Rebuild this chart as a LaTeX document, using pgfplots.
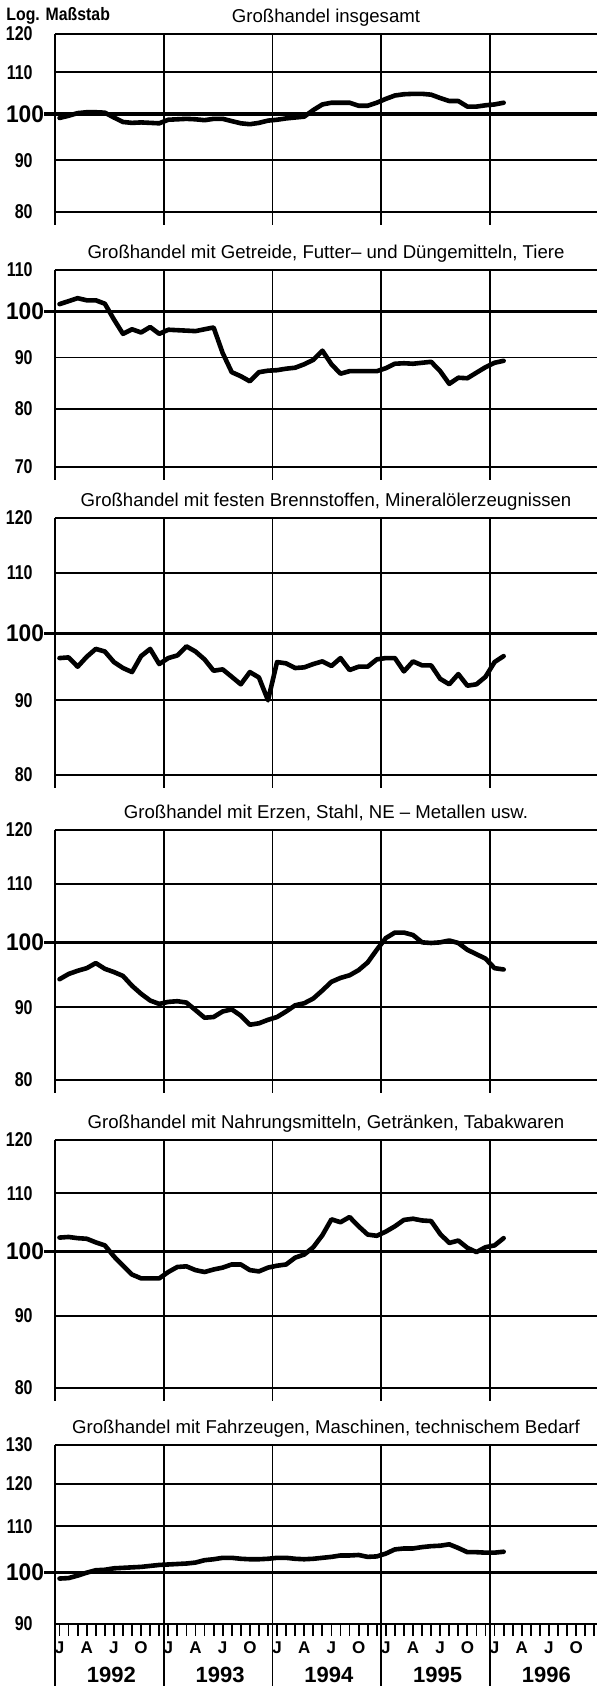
\documentclass[border=0pt]{standalone}
\usepackage{pgfplots}
\pgfplotsset{compat=1.18}
\usepackage{pgfplotstable}
\usepackage{fontspec}
\setmainfont{Liberation Sans}
\newfontfamily\numfont[FakeStretch=0.8]{Liberation Sans}
\newfontfamily\hundfont[FakeStretch=0.95]{Liberation Sans}
\newfontfamily\condfont[FakeStretch=0.88]{Liberation Sans}

% x = month index (month centre), Jan 1992 = 0.5 ... Feb 1996 = 49.5
\pgfplotstableread{
x y
0.5 99.1
1.5 99.6
2.5 100.2
3.5 100.4
4.5 100.4
5.5 100.3
6.5 99.2
7.5 98.2
8.5 98.0
9.5 98.1
10.5 98.0
11.5 97.9
12.5 98.7
13.5 98.8
14.5 98.9
15.5 98.8
16.5 98.6
17.5 98.9
18.5 98.9
19.5 98.4
20.5 97.9
21.5 97.7
22.5 98.0
23.5 98.5
24.5 98.7
25.5 99.0
26.5 99.2
27.5 99.4
28.5 100.9
29.5 102.2
30.5 102.6
31.5 102.6
32.5 102.6
33.5 101.9
34.5 101.9
35.5 102.6
36.5 103.5
37.5 104.3
38.5 104.6
39.5 104.7
40.5 104.7
41.5 104.5
42.5 103.7
43.5 103.0
44.5 103.0
45.5 101.7
46.5 101.7
47.5 102.0
48.5 102.2
49.5 102.6
}\dataA

\pgfplotstableread{
x y
0.5 101.7
1.5 102.4
2.5 103.1
3.5 102.6
4.5 102.6
5.5 101.8
6.5 98.2
7.5 95.0
8.5 96.0
9.5 95.3
10.5 96.5
11.5 95.0
12.5 95.9
13.5 95.8
14.5 95.7
15.5 95.6
16.5 96.0
17.5 96.4
18.5 90.9
19.5 87.0
20.5 86.2
21.5 85.2
22.5 87.0
23.5 87.3
24.5 87.4
25.5 87.7
26.5 87.9
27.5 88.6
28.5 89.5
29.5 91.4
30.5 88.6
31.5 86.7
32.5 87.2
33.5 87.2
34.5 87.2
35.5 87.2
36.5 87.8
37.5 88.7
38.5 88.8
39.5 88.7
40.5 88.9
41.5 89.1
42.5 87.2
43.5 84.7
44.5 85.9
45.5 85.8
46.5 86.9
47.5 88.0
48.5 88.9
49.5 89.3
}\dataB

\pgfplotstableread{
x y
0.5 96.2
1.5 96.3
2.5 94.9
3.5 96.4
4.5 97.6
5.5 97.2
6.5 95.6
7.5 94.7
8.5 94.1
9.5 96.5
10.5 97.6
11.5 95.3
12.5 96.2
13.5 96.6
14.5 98.0
15.5 97.2
16.5 96.0
17.5 94.3
18.5 94.5
19.5 93.4
20.5 92.3
21.5 94.1
22.5 93.3
23.5 90.0
24.5 95.6
25.5 95.4
26.5 94.7
27.5 94.8
28.5 95.3
29.5 95.7
30.5 95.0
31.5 96.2
32.5 94.4
33.5 94.9
34.5 94.9
35.5 96.0
36.5 96.2
37.5 96.2
38.5 94.2
39.5 95.7
40.5 95.1
41.5 95.1
42.5 93.1
43.5 92.3
44.5 93.8
45.5 92.1
46.5 92.3
47.5 93.4
48.5 95.6
49.5 96.5
}\dataC

\pgfplotstableread{
x y
0.5 94.2
1.5 95.0
2.5 95.5
3.5 95.9
4.5 96.7
5.5 95.8
6.5 95.3
7.5 94.7
8.5 93.2
9.5 92.0
10.5 91.0
11.5 90.5
12.5 90.8
13.5 90.9
14.5 90.7
15.5 89.6
16.5 88.5
17.5 88.6
18.5 89.4
19.5 89.7
20.5 88.8
21.5 87.5
22.5 87.7
23.5 88.2
24.5 88.6
25.5 89.4
26.5 90.3
27.5 90.6
28.5 91.3
29.5 92.5
30.5 93.8
31.5 94.4
32.5 94.8
33.5 95.6
34.5 96.8
35.5 98.8
36.5 100.7
37.5 101.6
38.5 101.6
39.5 101.2
40.5 100.0
41.5 99.9
42.5 100.0
43.5 100.3
44.5 99.9
45.5 98.8
46.5 98.1
47.5 97.4
48.5 95.9
49.5 95.7
}\dataD

\pgfplotstableread{
x y
0.5 102.3
1.5 102.4
2.5 102.2
3.5 102.1
4.5 101.5
5.5 101.0
6.5 99.2
7.5 97.7
8.5 96.3
9.5 95.7
10.5 95.7
11.5 95.7
12.5 96.7
13.5 97.5
14.5 97.6
15.5 97.0
16.5 96.7
17.5 97.1
18.5 97.4
19.5 97.9
20.5 97.9
21.5 97.0
22.5 96.8
23.5 97.4
24.5 97.7
25.5 97.9
26.5 99.0
27.5 99.5
28.5 100.7
29.5 102.7
30.5 105.4
31.5 104.9
32.5 105.8
33.5 104.2
34.5 102.8
35.5 102.6
36.5 103.3
37.5 104.2
38.5 105.3
39.5 105.5
40.5 105.2
41.5 105.1
42.5 102.9
43.5 101.4
44.5 101.8
45.5 100.6
46.5 99.9
47.5 100.7
48.5 101.0
49.5 102.2
}\dataE

\pgfplotstableread{
x y
0.5 98.8
1.5 98.9
2.5 99.4
3.5 100.0
4.5 100.5
5.5 100.6
6.5 100.9
7.5 101.0
8.5 101.1
9.5 101.2
10.5 101.4
11.5 101.6
12.5 101.7
13.5 101.8
14.5 101.9
15.5 102.1
16.5 102.6
17.5 102.8
18.5 103.1
19.5 103.1
20.5 102.9
21.5 102.8
22.5 102.8
23.5 102.9
24.5 103.1
25.5 103.1
26.5 102.9
27.5 102.8
28.5 102.9
29.5 103.1
30.5 103.3
31.5 103.6
32.5 103.6
33.5 103.7
34.5 103.3
35.5 103.4
36.5 104.0
37.5 104.9
38.5 105.1
39.5 105.1
40.5 105.4
41.5 105.6
42.5 105.7
43.5 106.0
44.5 105.2
45.5 104.3
46.5 104.3
47.5 104.2
48.5 104.2
49.5 104.4
}\dataF

\pgfplotsset{
  panel/.style={
    scale only axis, width=271pt,
    xmin=0, xmax=59.8,
    yminorticks=false, xminorticks=false,
    axis lines*=left,
    axis line style={-, line width=1pt, black},
    ymajorgrids,
    grid style={line width=0.9pt, black},
    ytick style={draw=none},
    yticklabel style={font=\numfont\bfseries\fontsize{10}{11}\selectfont, anchor=east, inner sep=0pt, xshift=-11pt},
    extra y ticks={100},
    extra y tick labels={100},
    extra y tick style={grid=major, grid style={line width=1.6pt, black},
      tick align=outside, major tick length=5.5pt,
      ytick style={draw=black, line width=1.6pt},
      yticklabel style={font=\hundfont\bfseries\fontsize{12}{13}\selectfont, xshift=11.25pt}},
    title style={font=\fontsize{9.3}{11}\selectfont, anchor=base, yshift=-0.25pt},
    clip=false,
  },
  yearlines/.style={
    xtick=\empty,
    extra x ticks={0,12,24,36,48},
    extra x tick labels={},
    extra x tick style={grid=major, tick align=outside, major tick length=#1,
      tick style={line width=0.9pt, black}},
  },
  dataline/.style={black, line width=2.3pt, line join=round, line cap=round},
}

\begin{document}
\begin{tikzpicture}
\path[use as bounding box] (0,0) rectangle (298.5pt,843pt);
\node[anchor=west, inner sep=0pt, font=\condfont\bfseries\fontsize{9}{10}\selectfont] at (3pt,835pt) {Log. Maßstab};

\begin{semilogyaxis}[panel, yearlines=6.5pt, at={(27.5pt,737pt)}, anchor=south west, height=89pt,
  ymin=80, ymax=120, ytick={80,90,110,120}, yticklabels={80,90,110,120},
  title={Großhandel insgesamt}]
\addplot[dataline] table {\dataA};
\end{semilogyaxis}

\begin{semilogyaxis}[panel, yearlines=6.5pt, at={(27.5pt,609.5pt)}, anchor=south west, height=98.5pt,
  ymin=70, ymax=110, ytick={70,80,90,110}, yticklabels={70,80,90,110},
  title={Großhandel mit Getreide, Futter– und Düngemitteln, Tiere}]
\addplot[dataline] table {\dataB};
\end{semilogyaxis}

\begin{semilogyaxis}[panel, yearlines=6.5pt, at={(27.5pt,455.5pt)}, anchor=south west, height=128.5pt,
  ymin=80, ymax=120, ytick={80,90,110,120}, yticklabels={80,90,110,120},
  title={Großhandel mit festen Brennstoffen, Mineralölerzeugnissen}]
\addplot[dataline] table {\dataC};
\end{semilogyaxis}

\begin{semilogyaxis}[panel, yearlines=6.5pt, at={(27.5pt,303pt)}, anchor=south west, height=125pt,
  ymin=80, ymax=120, ytick={80,90,110,120}, yticklabels={80,90,110,120},
  title={Großhandel mit Erzen, Stahl, NE – Metallen usw.}]
\addplot[dataline] table {\dataD};
\end{semilogyaxis}

\begin{semilogyaxis}[panel, yearlines=6.5pt, at={(27.5pt,149pt)}, anchor=south west, height=124pt,
  ymin=80, ymax=120, ytick={80,90,110,120}, yticklabels={80,90,110,120},
  title={Großhandel mit Nahrungsmitteln, Getränken, Tabakwaren}]
\addplot[dataline] table {\dataE};
\end{semilogyaxis}

\begin{semilogyaxis}[panel, yearlines=31pt, at={(27.5pt,31pt)}, anchor=south west, height=89.5pt,
  ymin=90, ymax=130, ytick={90,110,120,130}, yticklabels={90,110,120,130},
  title={Großhandel mit Fahrzeugen, Maschinen, technischem Bedarf},
  xtick={0.5,1.5,...,59.5},
  xticklabels={J,,,A,,,J,,,O,,,J,,,A,,,J,,,O,,,J,,,A,,,J,,,O,,,J,,,A,,,J,,,O,,,J,,,A,,,J,,,O,,},
  xtick style={line width=0.9pt, black},
  x tick label style={font=\bfseries\fontsize{8.5}{9}\selectfont, inner sep=0pt, yshift=-2.5pt},
  xtick align=outside, major tick length=6pt,
  ]
\addplot[dataline] table {\dataF};
\end{semilogyaxis}

\foreach \xx/\yy in {55.69/1992,110.07/1993,164.45/1994,218.83/1995,273.22/1996}
  \node[font=\bfseries\fontsize{11}{12}\selectfont] at (\xx pt,5.5pt) {\yy};
\end{tikzpicture}
\end{document}
